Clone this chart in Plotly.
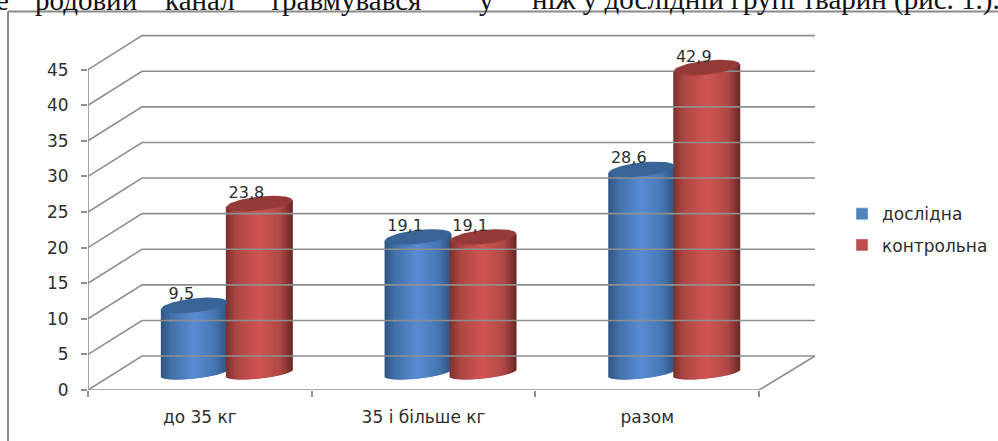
import numpy as np
import plotly.graph_objects as go

categories = ["до 35 кг", "35 і більше кг", "разом"]
doslidna = [9.5, 19.1, 28.6]
kontrolna = [23.8, 19.1, 42.9]
y_ticks = [0, 5, 10, 15, 20, 25, 30, 35, 40, 45]
top_words = [
    (-6, "е"), (33, "родовий"), (163, "канал"), (267, "травмувався"),
    (477, "у"), (530, "ніж у дослідній групі тварин (рис. 1.)."),
]

W, H = 998, 441
L, R, T, B = 88, 815, 31.5, 390
PX_X = 223.7          # pixels per category
PX_Y = 7.13           # pixels per value unit
X0 = -0.5
X1 = X0 + (R - L) / PX_X
Y1 = (B - T) / PX_Y
DX = 54 / PX_X        # depth shift of back wall
DY = 34 / PX_Y
HALF = 33 / PX_X      # cylinder half width
RY = 7 / PX_Y
RY_LOW = 5.5 / PX_Y
SKEW = 3.5 / PX_Y
BASE = DY / 2
GRID = "#8f8f8f"
TXT = "#2e2e2e"
FONT = "DejaVu Sans"


def shade(stops, t):
    ts = [s[0] for s in stops]
    rgb = [np.interp(t, ts, [s[1][i] for s in stops]) for i in range(3)]
    return "rgb(%d,%d,%d)" % tuple(int(round(c)) for c in rgb)


BLUE = [(0, (47, 84, 128)), (0.15, (66, 112, 168)), (0.5, (88, 140, 212)),
        (0.82, (70, 118, 178)), (0.93, (56, 98, 150)), (1, (48, 84, 130))]
RED = [(0, (122, 48, 46)), (0.15, (172, 70, 67)), (0.5, (207, 85, 82)),
       (0.82, (176, 72, 69)), (0.93, (136, 54, 52)), (1, (105, 40, 38))]

fig = go.Figure()

# walls and floor, drawn from the axis values
for v in y_ticks:
    fig.add_trace(go.Scatter(
        x=[X0, X0 + DX, X1], y=[v, v + DY, v + DY], mode="lines",
        line=dict(color=GRID, width=1.6), showlegend=False, hoverinfo="skip"))
fig.add_trace(go.Scatter(
    x=[X0, X0, None, X0, X0 + 3, X1], y=[0, y_ticks[-1], None, 0, 0, DY],
    mode="lines", line=dict(color=GRID, width=1.6), showlegend=False, hoverinfo="skip"))


def cylinder_traces(values, offset_px, stops, cap):
    N = 66
    xs, bases, heights, colors, widths = [], [], [], [], []
    edges = np.linspace(-1, 1, N + 1)
    mids = (edges[:-1] + edges[1:]) / 2
    for i, v in enumerate(values):
        cx = i + offset_px / PX_X
        for u in mids:
            low = BASE + SKEW * u - RY_LOW * np.sqrt(1 - u * u)
            xs.append(cx + u * HALF)
            bases.append(low)
            heights.append(BASE + v + SKEW * u - low)
            colors.append(shade(stops, (u + 1) / 2))
            widths.append(2 * HALF / N * 2)
    fig.add_trace(go.Bar(
        x=xs, y=heights, base=bases, width=widths,
        marker=dict(color=colors, line=dict(width=0)),
        showlegend=False, hoverinfo="skip"))
    for i, v in enumerate(values):
        cx = i + offset_px / PX_X
        th = np.linspace(0, 2 * np.pi, 73)
        fig.add_trace(go.Scatter(
            x=cx + HALF * np.cos(th),
            y=BASE + v + SKEW * np.cos(th) + RY * np.sin(th),
            mode="lines", fill="toself", fillcolor=cap,
            line=dict(width=0, color=cap), showlegend=False, hoverinfo="skip"))


DEPTH = DX / 2 * PX_X
cylinder_traces(doslidna, DEPTH - 32.5, BLUE, "#386497")
cylinder_traces(kontrolna, DEPTH + 32.5, RED, "#953a38")

for values, offset_px in ((doslidna, DEPTH - 32.5), (kontrolna, DEPTH + 32.5)):
    fig.add_trace(go.Scatter(
        x=[i + (offset_px - 13) / PX_X for i in range(3)],
        y=[v + BASE + 10 / PX_Y for v in values],
        text=[f"{v}".replace(".", ",") for v in values],
        mode="text", textposition="middle center",
        textfont=dict(family=FONT, size=16, color=TXT),
        showlegend=False, hoverinfo="skip", cliponaxis=False))

# legend entries
fig.add_trace(go.Bar(x=[None], y=[None], name="дослідна",
                     marker_color="#4f81bd", legendgroup="a"))
fig.add_trace(go.Bar(x=[None], y=[None], name="контрольна",
                     marker_color="#c0504d", legendgroup="b"))

annotations = [
    dict(text=t, xref="paper", yref="paper", x=(px - L) / (R - L), y=1,
         xanchor="left", yanchor="bottom", yshift=14, showarrow=False,
         font=dict(family="Liberation Serif", size=29, color="#111111"))
    for px, t in top_words
]

fig.update_layout(
    width=W, height=H, barmode="overlay", hovermode=False,
    margin=dict(l=L, r=W - R, t=T, b=H - B, pad=0, autoexpand=False),
    paper_bgcolor="white", plot_bgcolor="white",
    font=dict(family=FONT, size=15, color=TXT),
    xaxis=dict(range=[X0, X1], tickmode="array", tickvals=[0, 1, 2],
               ticktext=categories, ticks="", showgrid=False, zeroline=False,
               showline=False, tickfont=dict(size=17, color=TXT), ticklabelstandoff=15,
               automargin=False,
               minor=dict(tick0=-0.5, dtick=1, ticks="outside", ticklen=6,
                          tickcolor=GRID, tickwidth=1.6, showgrid=False)),
    yaxis=dict(range=[0, Y1], tickmode="array", tickvals=y_ticks, ticks="outside",
               ticklen=6, tickcolor=GRID, tickwidth=1.6, showgrid=False,
               zeroline=False, showline=False, tickfont=dict(size=17, color=TXT),
               ticklabelstandoff=9, automargin=False),
    legend=dict(x=(842 - L) / (R - L), y=(B - 196) / (B - T), xanchor="left", yanchor="top",
                traceorder="grouped", tracegroupgap=6,
                font=dict(size=17, color=TXT), bgcolor="rgba(0,0,0,0)"),
    shapes=[
        dict(type="line", xref="paper", yref="paper",
             x0=(8 - L) / (R - L), x1=(8 - L) / (R - L),
             y0=(B - 441) / (B - T), y1=(B - 11) / (B - T),
             line=dict(color="#8a8a8a", width=2)),
        dict(type="line", xref="paper", yref="paper",
             x0=(8 - L) / (R - L), x1=(998 - L) / (R - L),
             y0=(B - 11) / (B - T), y1=(B - 11) / (B - T),
             line=dict(color="#8a8a8a", width=2)),
    ],
    annotations=annotations,
)

fig.write_html("out.html", config=dict(displayModeBar=False),
               post_script="document.body.style.margin='0';document.body.style.overflow='hidden';")
